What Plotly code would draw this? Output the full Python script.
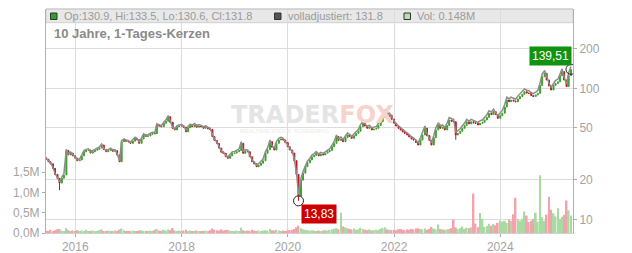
import math
import pandas as pd
import plotly.graph_objects as go

# ---------------- data (semi-monthly candles) ----------------
close_2015 = [28.7, 27.5, 26.5, 24.5, 22.0, 20.5, 18.9, 20.6, 21.8, 33.5, 31.0, 32.0, 30.5]
close_2016 = [29.3, 28.0, 28.4, 30.5, 32.8, 33.5, 33.8, 32.0, 32.8, 33.6, 34.2, 35.0,
              36.9, 34.0, 32.8, 33.5, 34.2, 33.0, 33.4, 31.0, 27.5, 39.1, 40.3, 39.5]
close_2017 = [39.0, 38.0, 39.5, 41.5, 40.5, 38.0, 41.0, 44.0, 43.0, 43.3, 44.5, 45.3,
              45.0, 52.5, 51.5, 50.9, 54.1, 56.0, 60.7, 55.0, 49.5, 48.1, 50.9, 51.5]
close_2018 = [51.5, 50.5, 46.6, 50.0, 52.0, 51.0, 52.5, 50.5, 51.5, 50.9, 49.5, 50.5,
              49.0, 48.6, 42.7, 40.0, 38.0, 35.0, 32.5, 31.9, 30.0, 29.2, 30.5, 31.9]
close_2019 = [32.0, 32.8, 33.5, 38.0, 31.9, 33.0, 32.8, 30.0, 27.5, 26.5, 25.2, 25.8,
              26.8, 28.0, 31.9, 34.0, 39.1, 35.5, 33.8, 38.0, 40.3, 41.0, 40.3, 38.5]
close_2020 = [35.8, 33.8, 32.0, 28.0, 22.0, 15.0, 19.9, 22.5, 25.2, 27.0, 28.4, 30.0,
              30.8, 31.9, 30.5, 31.5, 31.0, 32.0, 32.8, 33.5, 35.8, 38.0, 42.7, 40.0]
close_2021 = [41.0, 39.1, 42.0, 44.0, 43.0, 41.5, 43.5, 45.3, 47.0, 51.0, 54.0, 51.5,
              49.5, 50.5, 48.1, 48.8, 49.5, 52.0, 55.5, 60.0, 66.3, 60.6, 62.4, 58.0]
close_2022 = [54.1, 51.5, 49.5, 48.0, 46.5, 45.3, 44.0, 42.5, 41.0, 40.3, 38.5, 36.9,
              40.3, 44.0, 49.5, 43.5, 40.0, 36.9, 42.0, 48.1, 52.5, 49.5, 50.5, 48.1]
close_2023 = [52.0, 57.3, 56.0, 55.5, 44.0, 45.3, 47.0, 49.5, 52.0, 55.5, 53.5, 55.5,
              54.5, 54.0, 52.5, 54.0, 55.0, 57.3, 60.0, 64.5, 63.0, 66.3, 63.0, 59.0]
close_2024 = [62.0, 64.5, 72.0, 81.4, 79.0, 81.4, 80.0, 78.9, 83.0, 86.6, 90.0, 94.2,
              92.0, 91.5, 88.0, 86.6, 89.0, 91.5, 105.0, 122.6, 130.0, 115.6, 104.0, 97.1]
close_2025 = [105.0, 109.0, 112.0, 125.0, 134.0, 115.6, 103.0, 125.0, 139.51]

vol_2015 = [0.06, 0.05, 0.08, 0.05, 0.07, 0.09, 0.10, 0.06, 0.05, 0.12, 0.07, 0.05, 0.06]
vol_2016 = [0.05, 0.07, 0.04, 0.06, 0.05, 0.08, 0.04, 0.05, 0.06, 0.04, 0.05, 0.07,
            0.09, 0.05, 0.04, 0.06, 0.05, 0.04, 0.06, 0.05, 0.08, 0.11, 0.07, 0.05]
vol_2017 = [0.04, 0.05, 0.06, 0.05, 0.04, 0.06, 0.07, 0.05, 0.04, 0.05, 0.06, 0.05,
            0.07, 0.10, 0.06, 0.05, 0.08, 0.06, 0.09, 0.07, 0.12, 0.06, 0.05, 0.06]
vol_2018 = [0.05, 0.06, 0.08, 0.05, 0.06, 0.04, 0.05, 0.06, 0.05, 0.04, 0.05, 0.06,
            0.05, 0.07, 0.11, 0.08, 0.07, 0.06, 0.09, 0.06, 0.07, 0.08, 0.06, 0.05]
vol_2019 = [0.05, 0.06, 0.05, 0.13, 0.07, 0.05, 0.06, 0.05, 0.08, 0.06, 0.05, 0.06,
            0.05, 0.06, 0.07, 0.06, 0.10, 0.07, 0.06, 0.08, 0.06, 0.05, 0.06, 0.05]
vol_2020 = [0.06, 0.07, 0.08, 0.10, 0.14, 0.18, 0.12, 0.09, 0.08, 0.07, 0.06, 0.07,
            0.06, 0.05, 0.06, 0.05, 0.06, 0.07, 0.06, 0.08, 0.09, 0.10, 0.12, 0.09]
vol_2021 = [0.50, 0.16, 0.14, 0.12, 0.10, 0.09, 0.11, 0.08, 0.09, 0.13, 0.10, 0.08,
            0.07, 0.09, 0.06, 0.07, 0.08, 0.07, 0.10, 0.12, 0.14, 0.09, 0.08, 0.07]
vol_2022 = [0.08, 0.07, 0.09, 0.10, 0.08, 0.07, 0.09, 0.08, 0.10, 0.09, 0.11, 0.12,
            0.10, 0.09, 0.11, 0.08, 0.10, 0.15, 0.11, 0.09, 0.21, 0.10, 0.09, 0.08]
vol_2023 = [0.09, 0.10, 0.12, 0.33, 0.14, 0.10, 0.12, 0.16, 0.10, 0.13, 0.12, 0.14,
            0.97, 0.23, 0.14, 0.49, 0.35, 0.15, 0.17, 0.23, 0.18, 0.22, 0.19, 0.25]
vol_2024 = [0.31, 0.28, 0.30, 0.25, 0.33, 0.30, 0.46, 0.87, 0.33, 0.30, 0.35, 0.53,
            0.43, 0.27, 0.30, 0.35, 0.50, 0.28, 1.42, 0.39, 0.30, 0.45, 0.89, 0.57]
vol_2025 = [0.49, 0.41, 0.61, 0.35, 0.40, 0.45, 0.80, 0.56, 0.43]

# gap of the fully adjusted close over the plain close, per year
adj_years = [2015, 2016, 2017, 2018, 2019, 2020, 2021, 2022, 2023, 2024, 2025]
adj_factor = [1.02, 1.02, 1.02, 1.025, 1.03, 1.03, 1.035, 1.04, 1.045, 1.05, 1.05]

first_open = 29.5
wick_dates = ["2015-09-15", "2020-03-15", "2023-03-01"]
wick_lows = [16.7, 13.83, 40.5]

legend_ohlc = "Op:130.9, Hi:133.5, Lo:130.6, Cl:131.8"
legend_adj = "volladjustiert: 131.8"
legend_vol = "Vol: 0.148M"
title_text = "10 Jahre, 1-Tages-Kerzen"
x_tickvals = ["2016-01-01", "2018-01-01", "2020-01-01", "2022-01-01", "2024-01-01"]
x_ticktext = ["2016", "2018", "2020", "2022", "2024"]
p_tickvals = [10, 20, 50, 100, 200]
v_tickvals = [0, 0.5e6, 1.0e6, 1.5e6]
v_ticktext = ["0,0M", "0,5M", "1,0M", "1,5M"]

# ---------------- assemble ----------------
close = (close_2015 + close_2016 + close_2017 + close_2018 + close_2019 + close_2020 +
         close_2021 + close_2022 + close_2023 + close_2024 + close_2025)
vol_m = (vol_2015 + vol_2016 + vol_2017 + vol_2018 + vol_2019 + vol_2020 +
         vol_2021 + vol_2022 + vol_2023 + vol_2024 + vol_2025)
dates = pd.date_range("2015-06-15", "2025-05-01", freq="SMS")
assert len(dates) == len(close) == len(vol_m), (len(dates), len(close), len(vol_m))

opens = [first_open] + close[:-1]
highs = [max(o, c) for o, c in zip(opens, close)]
lows = [min(o, c) for o, c in zip(opens, close)]
date_str = [d.strftime("%Y-%m-%d") for d in dates]
for wd, wl in zip(wick_dates, wick_lows):
    i = date_str.index(wd)
    lows[i] = wl
fac = dict(zip(adj_years, adj_factor))
adj = [c * fac[d.year] for c, d in zip(close, dates)]
volume = [v * 1e6 for v in vol_m]

GREEN = "#3ba22c"
RED = "#c4161c"
vcol = ["#a8dba2" if c >= o else "#f2a3ac" for o, c in zip(opens, close)]

low_i = lows.index(min(lows))
last_i = len(close) - 1

fig = go.Figure()
fig.add_trace(go.Bar(x=dates, y=volume, marker=dict(color=vcol, line=dict(width=0)),
                     width=12 * 86400000, yaxis="y", showlegend=False, hoverinfo="skip"))
fig.add_trace(go.Scatter(x=dates, y=adj, mode="lines", line=dict(color="#8c8c8c", width=1.5),
                         yaxis="y2", showlegend=False, hoverinfo="skip"))
fig.add_trace(go.Candlestick(x=dates, open=opens, high=highs, low=lows, close=close,
                             increasing=dict(line=dict(color=GREEN, width=1), fillcolor=GREEN),
                             decreasing=dict(line=dict(color=RED, width=1), fillcolor=RED),
                             whiskerwidth=0, yaxis="y2", showlegend=False))
fig.add_trace(go.Scatter(x=[dates[low_i], dates[last_i]], y=[lows[low_i], close[last_i]],
                         mode="markers", yaxis="y2", showlegend=False,
                         marker=dict(symbol="circle-open", size=10, color="#222",
                                     line=dict(width=1))))


def fmt(v):
    return f"{v:.2f}".replace(".", ",")


ann = []
ann.append(dict(x=dates[last_i], y=math.log10(close[last_i]), xref="x", yref="y2",
                text=fmt(close[last_i]), showarrow=False, xanchor="right", yanchor="bottom",
                xshift=1, yshift=3, bgcolor="#109410", borderpad=2,
                font=dict(color="white", size=12, family="Liberation Sans, Arial")))
ann.append(dict(x=dates[low_i], y=math.log10(lows[low_i]), xref="x", yref="y2",
                text=fmt(lows[low_i]), showarrow=False, xanchor="left", yanchor="top",
                xshift=2, yshift=-3, bgcolor="#cc0000", borderpad=2,
                font=dict(color="white", size=12, family="Liberation Sans, Arial")))

L, R, T, B = 46, 59, 9, 20
W, H = 632, 253
PW, PH = W - L - R, H - T - B


def px(x):
    return (x - L) / PW


def py(y):
    return (H - B - y) / PH


lg_font = dict(size=11, color="#9a9a9a", family="Liberation Sans, Arial")
ann.append(dict(x=px(62), y=py(16), xref="paper", yref="paper", text=legend_ohlc,
                showarrow=False, xanchor="left", yanchor="middle", font=lg_font))
ann.append(dict(x=px(285.5), y=py(16), xref="paper", yref="paper", text=legend_adj,
                showarrow=False, xanchor="left", yanchor="middle", font=lg_font))
ann.append(dict(x=px(415), y=py(16), xref="paper", yref="paper", text=legend_vol,
                showarrow=False, xanchor="left", yanchor="middle", font=lg_font))
ann.append(dict(x=px(52), y=py(33.5), xref="paper", yref="paper", text="<b>" + title_text + "</b>",
                showarrow=False, xanchor="left", yanchor="middle",
                font=dict(size=13, color="#8a8a8a", family="Liberation Sans, Arial")))
# watermark
ann.append(dict(x=px(312), y=py(115), xref="paper", yref="paper",
                text="<b><span style='color:#e4e4e4'>TRADER</span><span style='color:#f7d3cc'>FOX</span></b>",
                showarrow=False, xanchor="center", yanchor="middle",
                font=dict(size=24, family="DejaVu Sans")))
ann.append(dict(x=px(284), y=py(130.5), xref="paper", yref="paper",
                text="REALTIME STOCK SCREENING", showarrow=False, xanchor="center", yanchor="middle",
                font=dict(size=6, color="#ececec", family="Liberation Sans, Arial")))

shapes = [
    dict(type="rect", xref="paper", yref="paper", x0=0, x1=1, y0=py(22.7), y1=1,
         fillcolor="#e8e8e8", line=dict(color="#cfcfcf", width=1), layer="below"),
    dict(type="line", xref="paper", yref="paper", x0=0, x1=1, y0=1, y1=1,
         line=dict(color="#c8c8c8", width=1)),
]
sq = [(50.5, "#2ea12a"), (274.5, "#555555"), (404, "#b5e0ae")]
for sx, col in sq:
    shapes.append(dict(type="rect", xref="paper", yref="paper", x0=px(sx), x1=px(sx + 6.5),
                       y0=py(19.5), y1=py(13), fillcolor=col,
                       line=dict(color="#333333", width=1)))

tick_font = dict(size=12, color="#a3a3a3", family="Liberation Sans, Arial")
fig.update_layout(
    width=W, height=H, margin=dict(l=L, r=R, t=T, b=B, autoexpand=False),
    paper_bgcolor="white", plot_bgcolor="white",
    showlegend=False, annotations=ann, shapes=shapes,
    xaxis=dict(type="date", range=["2015-06-14", "2025-05-15"], rangeslider=dict(visible=False),
               tickvals=x_tickvals, ticktext=x_ticktext, tickfont=tick_font,
               showgrid=True, gridcolor="#dcdcdc", gridwidth=1, automargin=False,
               ticks="outside", ticklen=3, tickcolor="#aaaaaa",
               showline=True, linecolor="#d0d0d0", zeroline=False),
    yaxis=dict(range=[0, 5.517e6], tickvals=v_tickvals, ticktext=v_ticktext, tickfont=tick_font,
               showgrid=False, zeroline=False, showline=True, linecolor="#b0b0b0",
               automargin=False,
               ticks="outside", ticklen=3, tickcolor="#aaaaaa", side="left"),
    yaxis2=dict(type="log", range=[0.8954, 2.6053], overlaying="y", side="right",
                tickvals=p_tickvals, ticktext=[str(v) for v in p_tickvals], tickfont=tick_font,
                showgrid=True, gridcolor="#dcdcdc", gridwidth=1, zeroline=False,
                showline=True, linecolor="#b0b0b0", automargin=False,
                ticks="outside", ticklen=3, tickcolor="#aaaaaa"),
)

fig.write_html("out.html")
